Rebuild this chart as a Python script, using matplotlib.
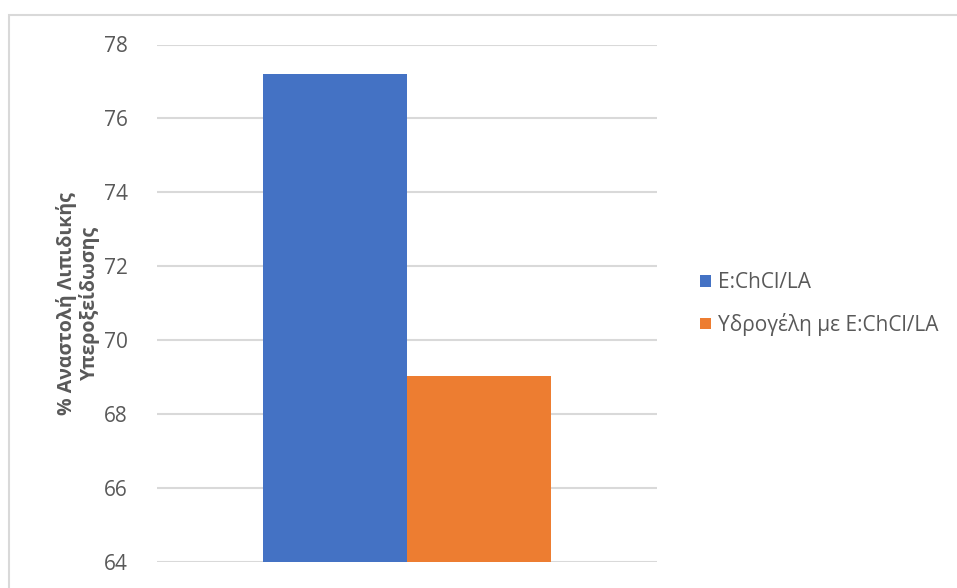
import matplotlib
matplotlib.use("Agg")
import matplotlib.pyplot as plt
from matplotlib.patches import Rectangle, Patch

series = ["E:ChCl/LA", "Υδρογέλη με E:ChCl/LA"]
values = [77.2, 69.03]
colors = ["#4472C4", "#ED7D31"]
yticks = [64, 66, 68, 70, 72, 74, 76, 78]
ylabel = "% Αναστολή Λιπιδικής\nΥπεροξείδωσης"

plt.rcParams["font.family"] = ["Open Sans", "DejaVu Sans"]
W, H = 957, 588
fig = plt.figure(figsize=(W / 100, H / 100), dpi=100)

# outer chart frame (top and left edges visible)
fig.add_artist(Rectangle((9 / W, -0.1), 1.2, 1.1 - 15 / H, transform=fig.transFigure,
                         fill=False, edgecolor="#d9d9d9", linewidth=1.5))

ax = fig.add_axes([157 / W, 1 - 562 / H, 500 / W, (562 - 44.5) / H])
bw = 0.288
offsets = [-bw / 2, bw / 2]
for off, v, c in zip(offsets, values, colors):
    ax.bar(off, v - 64, bottom=64, width=bw, color=c, zorder=3)

ax.set_xlim(-0.5, 0.5)
ax.set_ylim(64, 78)
ax.set_yticks(yticks)
ax.set_yticklabels([str(t) for t in yticks])
ax.set_xticks([])
ax.tick_params(axis="y", length=0, pad=21, labelsize=15, labelcolor="#595959")
ax.grid(axis="y", color="#d9d9d9", linewidth=1.5, zorder=0)
for s in ax.spines.values():
    s.set_visible(False)
ax.set_ylabel(ylabel, fontsize=14, fontweight="bold", color="#595959", linespacing=1.1)
ax.yaxis.set_label_coords(-0.114, 0.5)

handles = [Patch(facecolor=c, edgecolor="none") for c in colors]
fig.legend(handles, series, loc="center left", bbox_to_anchor=(690 / W, 1 - 304 / H),
           frameon=False, fontsize=15, labelcolor="#595959", borderpad=0,
           handlelength=0.5, handleheight=0.5, handletextpad=0.35, labelspacing=0.95)

fig.savefig("out.png", dpi=100, facecolor="white")
